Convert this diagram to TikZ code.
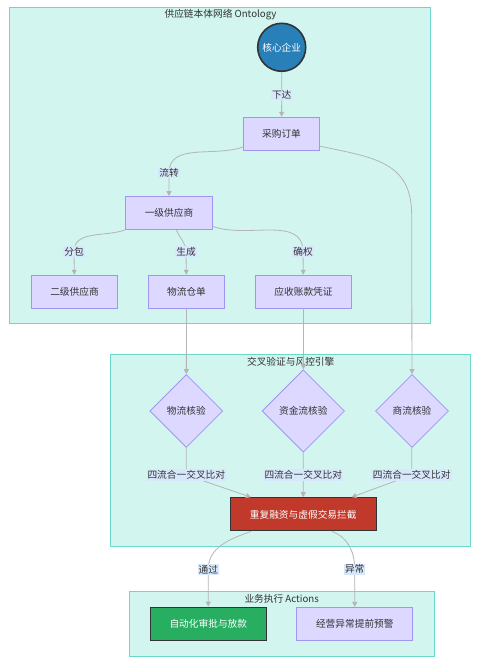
\documentclass[tikz,border=0pt]{standalone}
\usepackage{fontspec}
\setmainfont{Noto Sans CJK SC}
\usetikzlibrary{shapes.geometric,arrows.meta}
\definecolor{clfill}{HTML}{D2F5EF}
\definecolor{cldraw}{HTML}{6AD9CC}
\definecolor{bxfill}{HTML}{DCD8FF}
\definecolor{bxdraw}{HTML}{9F96F2}
\definecolor{lnk}{HTML}{B5B5B5}
\definecolor{lblbg}{HTML}{D8E8FC}
\definecolor{txt}{HTML}{333333}
\definecolor{coreblue}{HTML}{2980B9}
\definecolor{blkred}{HTML}{C0392B}
\definecolor{okgreen}{HTML}{27AE60}
\begin{document}
\begin{tikzpicture}[x=1pt,y=-1pt,font=\fontsize{9.7}{11}\selectfont,text=txt,
	box/.style={draw=bxdraw,fill=bxfill,line width=.8pt,minimum height=33pt,inner sep=0pt},
	dia/.style={diamond,draw=bxdraw,fill=bxfill,line width=.8pt,inner sep=0pt,aspect=1},
	dark/.style={box,draw=black!80,line width=1.2pt,text=white},
	lbl/.style={fill=lblbg,inner sep=1pt},
	edge/.style={draw=lnk,line width=.8pt,-{Triangle[length=5pt,width=5pt]}},
	clus/.style={draw=cldraw,fill=clfill,line width=.8pt}]
		\useasboundingbox(0,0)rectangle(486,668);
		\fill[white](0,0)rectangle(486,668);
		\draw[clus](9.5,7.5)rectangle(430.5,323.5);
		\draw[clus](110.5,354.5)rectangle(470.5,546.5);
		\draw[clus](129,591.5)rectangle(434.5,656);
		\node(ttlA)at(220.5,15){供应链本体网络 Ontology};
		\node(ttlB)at(290.7,361.7){交叉验证与风控引擎};
		\node(ttlC)at(281.7,599.3){业务执行 Actions};
		\node[circle,draw=black!80,line width=1.6pt,fill=coreblue,minimum size=48pt,inner sep=0pt,text=white](core)at(281.7,47.3){核心企业};
		\node[box,minimum width=76pt](po)at(281.5,133.7){采购订单};
		\node[box,minimum width=87pt](sup1)at(169,213){一级供应商};
		\node[box,minimum width=86pt](sup2)at(74.5,291.7){二级供应商};
		\node[box,minimum width=76pt](wr)at(186.5,291.7){物流仓单};
		\node[box,minimum width=96pt](ar)at(303.5,291.7){应收账款凭证};
		\node[dia,minimum width=73pt,minimum height=73pt](chkL)at(186.3,411){物流核验};
		\node[dia,minimum width=82.5pt,minimum height=82.5pt](chkF)at(303.3,411){资金流核验};
		\node[dia,minimum width=73pt,minimum height=73pt](chkC)at(412,411){商流核验};
		\node[dark,fill=blkred,minimum width=146pt](blk)at(303.2,514.3){重复融资与虚假交易拦截};
		\node[dark,fill=okgreen,minimum width=116pt](ok)at(208.3,623.8){自动化审批与放款};
		\node[box,minimum width=116pt](warn)at(354.8,623.8){经营异常提前预警};
		\coordinate(cXD)at(281.7,95);
		\coordinate(cLZ)at(169,173);
		\coordinate(cR)at(411.7,215);
		\coordinate(cFB)at(74,251.7);
		\coordinate(cSC)at(186,251.7);
		\coordinate(cQQ)at(303,251.7);
		\coordinate(cA)at(186.3,475);
		\coordinate(cB)at(303.3,475);
		\coordinate(cC)at(411.7,475);
		\coordinate(cTG)at(208.3,569.3);
		\coordinate(cYC)at(354.7,569.3);
		\draw[edge](core)--(cXD)node[lbl]{下达}--(po);
		\draw[edge](po.-161)to[out=200,in=90](cLZ)node[lbl]{流转}--(sup1);
		\draw[edge](po.-18)to[out=-12,in=90,looseness=1.2](cR)--(chkC);
		\draw[edge](sup1.south west)to[out=200,in=90](cFB)node[lbl]{分包}--(sup2);
		\draw[edge](sup1.-66)to[out=-70,in=90](cSC)node[lbl]{生成}--(wr);
		\draw[edge](sup1.-17)to[out=-20,in=90](cQQ)node[lbl]{确权}--(ar);
		\draw[edge](wr)--(chkL);
		\draw[edge](ar)--(chkF);
		\draw[edge](chkL)--(cA)node[lbl]{四流合一交叉比对}--([xshift=21.4pt]blk.north west);
		\draw[edge](chkF)--(cB)node[lbl]{四流合一交叉比对}--(blk);
		\draw[edge](chkC)--(cC)node[lbl]{四流合一交叉比对}--([xshift=-25.3pt]blk.north east);
		\draw[edge]([xshift=21.4pt]blk.south west)to[out=200,in=90](cTG)node[lbl]{通过}--(ok);
		\draw[edge]([xshift=-45pt]blk.south east)to[out=-20,in=90](cYC)node[lbl]{异常}--(warn);
	\end{tikzpicture}
\end{document}
